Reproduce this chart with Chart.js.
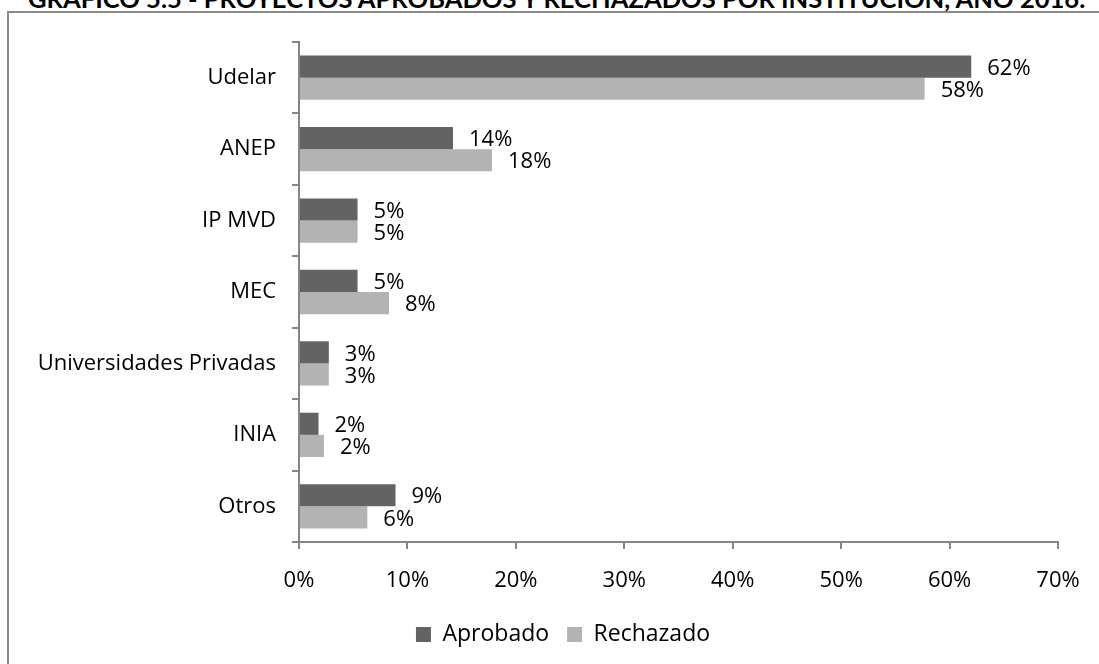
<!DOCTYPE html>
<html>
<head>
<meta charset="utf-8">
<script src="https://cdn.jsdelivr.net/npm/chart.js@4.4.0/dist/chart.umd.min.js"></script>
<style>
  html, body { margin: 0; padding: 0; background: #fff; overflow: hidden; }
  #frame { position: absolute; left: 7px; top: 11px; width: 1200px; height: 700px; border: 2px solid #8a8a8a; box-sizing: border-box; }
  #title { position: absolute; left: 28px; top: -16px; font: bold 24px Lato, sans-serif; color: #000; white-space: nowrap; transform-origin: 0 0; }
  #wrap { position: absolute; left: 0; top: 0; width: 1099px; height: 664px; }
</style>
</head>
<body>
<div id="frame"></div>
<div id="title">GRÁFICO 5.5 - PROYECTOS APROBADOS Y RECHAZADOS POR INSTITUCIÓN, AÑO 2016.</div>
<div id="wrap"><canvas id="chart" width="1099" height="664"></canvas></div>
<script>
// Data
const categories = ['Udelar', 'ANEP', 'IP MVD', 'MEC', 'Universidades Privadas', 'INIA', 'Otros'];
const aprobado = [62.0, 14.2, 5.4, 5.4, 2.75, 1.8, 8.9];
const rechazado = [57.7, 17.8, 5.4, 8.3, 2.75, 2.3, 6.3];
const xTicks = [0, 10, 20, 30, 40, 50, 60, 70];

// stretch title to its width in the picture
const title = document.getElementById('title');
title.style.transform = 'scaleX(' + (1057 / title.offsetWidth) + ')';

const font = { family: '"Open Sans", sans-serif', size: 22 };
const axisColor = '#868686';

// value labels right of each bar
const barLabels = {
    id: 'barLabels',
    afterDatasetsDraw(chart) {
        const ctx = chart.ctx;
        ctx.save();
        ctx.font = '22px "Open Sans", sans-serif';
        ctx.fillStyle = '#000';
        ctx.textAlign = 'left';
        ctx.textBaseline = 'middle';
        chart.data.datasets.forEach((ds, i) => {
            chart.getDatasetMeta(i).data.forEach((bar, j) => {
                ctx.fillText(Math.round(ds.data[j]) + '%', bar.x + 16, bar.y + 2);
            });
        });
        ctx.restore();
    }
};

// legend sits a bit right of the page centre in the original
const legendShift = {
    id: 'legendShift',
    afterLayout(chart) {
        chart.legend.left += 34;
        chart.legend.right += 34;
    }
};

new Chart(document.getElementById('chart'), {
    type: 'bar',
    data: {
        labels: categories,
        datasets: [
            { label: 'Aprobado', data: aprobado, backgroundColor: '#636363' },
            { label: 'Rechazado', data: rechazado, backgroundColor: '#b3b3b3' }
        ]
    },
    options: {
        indexAxis: 'y',
        responsive: false,
        animation: false,
        categoryPercentage: 0.62,
        barPercentage: 1.0,
        layout: { padding: { top: 42, right: 41, bottom: 8, left: 0 } },
        scales: {
            x: {
                min: 0,
                max: 70,
                afterBuildTicks: (scale) => { scale.ticks = xTicks.map(v => ({ value: v })); },
                afterFit: (scale) => { scale.height = 63; },
                ticks: { color: '#000', font: font, padding: 19, callback: (v) => v + '%' },
                grid: { drawOnChartArea: false, tickLength: 7, color: axisColor, lineWidth: 2 },
                border: { color: axisColor, width: 2 }
            },
            y: {
                afterFit: (scale) => { scale.width = 299; },
                ticks: { color: '#000', font: font, padding: 16 },
                grid: { drawOnChartArea: false, tickLength: 7, color: axisColor, lineWidth: 2, offset: true },
                border: { color: axisColor, width: 2 }
            }
        },
        plugins: {
            legend: {
                position: 'bottom',
                labels: { color: '#000', font: { family: '"Open Sans", sans-serif', size: 23 }, boxWidth: 15, boxHeight: 15, padding: 18 }
            },
            tooltip: { enabled: false }
        }
    },
    plugins: [barLabels, legendShift]
});
</script>
</body>
</html>
